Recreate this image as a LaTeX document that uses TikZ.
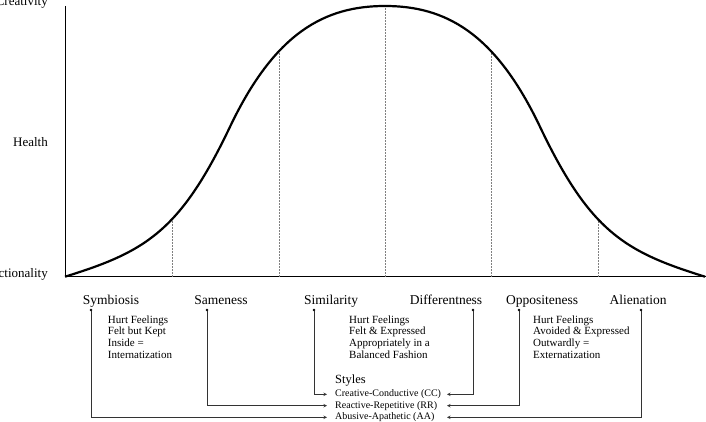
\documentclass[tikz,border=0pt]{standalone}
\usepackage{fontspec}
\setmainfont{Liberation Serif}

\tikzset{
  level/.style={anchor=base east, inner sep=0pt, font=\fontsize{13}{15}\selectfont},
  stage/.style={anchor=base, inner sep=0pt, font=\fontsize{13.5}{16}\selectfont},
  dot/.style={circle, fill, inner sep=0pt, minimum size=2.6pt},
  feeling/.style={anchor=north west, inner sep=0pt, align=left, font=\fontsize{11}{11.9}\selectfont},
  stylelbl/.style={anchor=west, inner xsep=8pt, inner ysep=0pt, font=\fontsize{10}{12}\selectfont},
  conn/.style={->, line width=0.6pt, black!80},
  guide/.style={densely dotted, gray, line width=0.5pt}
}

\begin{document}
\begin{tikzpicture}[x=1pt,y=1pt,>=stealth]
	\clip (0,0) rectangle (706,422);

	% Axes
	\draw[line width=0.8pt] (65,416) -- (65,145.3) -- (706,145.3);

	% Dotted guides
	\foreach \x/\y in {172/203.5, 279/371.2, 385/416, 491/371.2, 598/203.5}
		\draw[guide] (\x,145.3) -- (\x,\y);

	% Bell curve
	\draw[line width=2.2pt] (65,145.3)
		.. controls (145,170.1) and (180,190.2) .. (230,295.2)
		.. controls (275,389.7) and (325,416) .. (385,416)
		.. controls (445,416) and (495,389.7) .. (540,295.2)
		.. controls (590,190.2) and (625,170.1) .. (705,145.3);

	% Levels
	\node[level] (cre) at (48,416) {Creativity};
	\node[level] (hea) at (48,275) {Health};
	\node[level] (dys) at (48,144) {Dysfunctionality};

	% Stages
	\node[stage] (symlbl) at (111,117) {Symbiosis};
	\node[stage] (samlbl) at (221,117) {Sameness};
	\node[stage] (simlbl) at (331,117) {Similarity};
	\node[stage] (diflbl) at (446,117) {Differentness};
	\node[stage] (opplbl) at (542,117) {Oppositeness};
	\node[stage] (alilbl) at (638,117) {Alienation};

	\node[dot] (sym) at (91,112) {};
	\node[dot] (sam) at (207,112) {};
	\node[dot] (sim) at (314,112) {};
	\node[dot] (dif) at (473,112) {};
	\node[dot] (opp) at (519,112) {};
	\node[dot] (ali) at (641,112) {};

	% Hurt feelings
	\node[feeling] (inside) at (107.7,106.8) {Hurt Feelings\\Felt but Kept\\Inside =\\Internatization};
	\node[feeling] (balanced) at (349,106.8) {Hurt Feelings\\Felt \& Expressed\\Appropriately in a\\Balanced Fashion};
	\node[feeling] (outward) at (533,106.8) {Hurt Feelings\\Avoided \& Expressed\\Outwardly =\\Externatization};

	% Styles
	\node[anchor=base west, inner sep=0pt, font=\fontsize{12.5}{15}\selectfont] (styles) at (335,38) {Styles};
	\node[stylelbl] (cc) at (327,27.7) {Creative-Conductive (CC)};
	\node[stylelbl] (rr) at (327,16.3) {Reactive-Repetitive (RR)};
	\node[stylelbl] (aa) at (327,4.7) {Abusive-Apathetic (AA)};
	\coordinate (tipr) at (447,0);

	% Connectors
	\draw[conn] (sim) |- (cc.west);
	\draw[conn] (sam) |- (rr.west);
	\draw[conn] (sym) |- (aa.west);
	\draw[conn] (dif) |- (tipr |- cc);
	\draw[conn] (opp) |- (tipr |- rr);
	\draw[conn] (ali) |- (tipr |- aa);
\end{tikzpicture}
\end{document}
